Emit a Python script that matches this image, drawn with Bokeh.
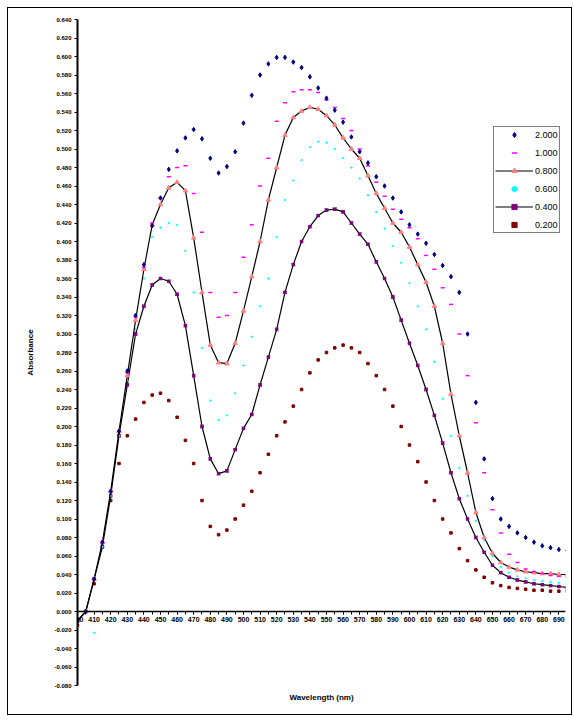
from bokeh.plotting import figure
from bokeh.models import (Range1d, SingleIntervalTicker, FixedTicker, NumeralTickFormatter,
                          Legend, LegendItem, Title)
from bokeh.embed import file_html
from bokeh.resources import INLINE

# wavelength (nm), one reading every 5 nm
wavelength = list(range(400, 700, 5))

abs_2000 = [-0.01, 0.0, 0.035, 0.075, 0.13, 0.195, 0.26, 0.32, 0.375, 0.417,
            0.447, 0.478, 0.498, 0.512, 0.521, 0.511, 0.49, 0.474, 0.481, 0.497,
            0.528, 0.558, 0.58, 0.592, 0.599, 0.599, 0.594, 0.588, 0.578, 0.566,
            0.555, 0.542, 0.529, 0.513, 0.497, 0.485, 0.47, 0.46, 0.447, 0.432,
            0.418, 0.408, 0.398, 0.386, 0.374, 0.362, 0.345, 0.3, 0.226, 0.165,
            0.122, 0.1, 0.092, 0.085, 0.08, 0.075, 0.071, 0.069, 0.067, 0.066]

abs_1000 = [-0.01, 0.0, 0.035, 0.075, 0.13, 0.195, 0.258, 0.318, 0.372, 0.42,
            0.447, 0.47, 0.48, 0.482, 0.452, 0.41, 0.345, 0.318, 0.32, 0.345,
            0.383, 0.418, 0.46, 0.49, 0.53, 0.55, 0.562, 0.564, 0.564, 0.561,
            0.553, 0.545, 0.533, 0.52, 0.5, 0.482, 0.464, 0.449, 0.435, 0.424,
            0.415, 0.403, 0.385, 0.37, 0.35, 0.332, 0.3, 0.255, 0.204, 0.15,
            0.11, 0.085, 0.062, 0.053, 0.046, 0.043, 0.041, 0.039, 0.038, 0.037]

abs_0800 = [-0.01, 0.0, 0.035, 0.075, 0.13, 0.195, 0.255, 0.315, 0.37, 0.418,
            0.44, 0.458, 0.464, 0.455, 0.404, 0.345, 0.288, 0.269, 0.268, 0.29,
            0.325, 0.362, 0.4, 0.445, 0.48, 0.515, 0.534, 0.541, 0.545, 0.543,
            0.536, 0.526, 0.512, 0.5, 0.49, 0.471, 0.452, 0.436, 0.42, 0.41,
            0.394, 0.375, 0.356, 0.33, 0.29, 0.235, 0.19, 0.15, 0.107, 0.08,
            0.063, 0.053, 0.048, 0.045, 0.043, 0.042, 0.041, 0.041, 0.04, 0.04]

abs_0600 = [-0.01, 0.0, -0.023, 0.07, 0.125, 0.19, 0.25, 0.305, 0.36, 0.405,
            0.415, 0.42, 0.418, 0.39, 0.345, 0.285, 0.228, 0.207, 0.212, 0.236,
            0.266, 0.297, 0.33, 0.36, 0.405, 0.445, 0.466, 0.488, 0.502, 0.508,
            0.507, 0.5, 0.49, 0.48, 0.468, 0.45, 0.432, 0.414, 0.395, 0.377,
            0.355, 0.33, 0.305, 0.27, 0.23, 0.19, 0.155, 0.125, 0.098, 0.077,
            0.06, 0.048, 0.042, 0.038, 0.036, 0.034, 0.033, 0.032, 0.031, 0.031]

abs_0400 = [-0.01, 0.0, 0.035, 0.07, 0.125, 0.19, 0.245, 0.3, 0.33, 0.353,
            0.36, 0.357, 0.343, 0.309, 0.255, 0.2, 0.165, 0.149, 0.152, 0.175,
            0.198, 0.213, 0.245, 0.275, 0.305, 0.345, 0.375, 0.4, 0.416, 0.428,
            0.434, 0.435, 0.432, 0.42, 0.408, 0.397, 0.378, 0.36, 0.34, 0.315,
            0.29, 0.266, 0.24, 0.212, 0.182, 0.15, 0.122, 0.1, 0.08, 0.064,
            0.05, 0.042, 0.037, 0.034, 0.032, 0.03, 0.029, 0.028, 0.027, 0.026]

abs_0200 = [-0.015, 0.0, 0.03, 0.07, 0.12, 0.16, 0.19, 0.208, 0.226, 0.234,
            0.236, 0.228, 0.21, 0.185, 0.16, 0.12, 0.092, 0.083, 0.088, 0.1,
            0.115, 0.13, 0.15, 0.17, 0.19, 0.205, 0.222, 0.24, 0.258, 0.272,
            0.28, 0.285, 0.288, 0.285, 0.28, 0.268, 0.255, 0.24, 0.222, 0.2,
            0.18, 0.162, 0.14, 0.12, 0.1, 0.085, 0.068, 0.055, 0.045, 0.037,
            0.031, 0.028, 0.026, 0.025, 0.024, 0.023, 0.023, 0.022, 0.022, 0.022]

series_labels = ["2.000", "1.000", "0.800", "0.600", "0.400", "0.200"]
x_label_ticks = list(range(400, 700, 10))

FONT = "Liberation Sans"

p = figure(frame_width=488, frame_height=666,
           x_range=Range1d(400, 694), y_range=Range1d(-0.08, 0.64),
           output_backend="svg", toolbar_location=None,
           min_border_left=69, min_border_top=11, min_border_right=6, min_border_bottom=29,
           background_fill_color="white", border_fill_color="white")
p.margin = (7, 0, 0, 7)
p.styles = {"border": "1px solid black"}
p.outline_line_color = None
p.xgrid.visible = False
p.ygrid.visible = False

# x axis crossing at zero
p.xaxis.fixed_location = 0
p.xaxis.ticker = FixedTicker(ticks=x_label_ticks, minor_ticks=wavelength)
p.xaxis.axis_line_width = 1.5
p.xaxis.axis_line_color = "black"
p.xaxis.major_tick_line_color = "black"
p.xaxis.minor_tick_line_color = "black"
p.xaxis.major_tick_in = 0
p.xaxis.major_tick_out = 3
p.xaxis.minor_tick_in = 0
p.xaxis.minor_tick_out = 3
p.xaxis.major_label_text_font = FONT
p.xaxis.major_label_text_font_size = "7px"
p.xaxis.major_label_text_font_style = "bold"
p.xaxis.major_label_text_color = "black"
p.xaxis.major_label_standoff = 2

p.add_layout(Title(text="Wavelength (nm)", align="center", text_font=FONT,
                   text_font_size="8px", text_font_style="bold", text_color="black"), "below")

p.yaxis.ticker = SingleIntervalTicker(interval=0.02, num_minor_ticks=0)
p.yaxis.formatter = NumeralTickFormatter(format="0.000")
p.yaxis.axis_line_width = 2
p.yaxis.axis_line_color = "black"
p.yaxis.major_tick_line_color = "black"
p.yaxis.major_tick_in = 0
p.yaxis.major_tick_out = 3
p.yaxis.minor_tick_line_color = None
p.yaxis.major_label_text_font = FONT
p.yaxis.major_label_text_font_size = "6px"
p.yaxis.major_label_text_font_style = "bold"
p.yaxis.major_label_text_color = "black"
p.yaxis.major_label_standoff = 3
p.yaxis.axis_label = "Absorbance"
p.yaxis.axis_label_text_font = FONT
p.yaxis.axis_label_text_font_size = "8px"
p.yaxis.axis_label_text_font_style = "bold"
p.yaxis.axis_label_text_color = "black"
p.yaxis.axis_label_standoff = 16

# series
r200 = p.scatter(wavelength, abs_0200, marker="square", size=2.5, color="#800000")

l400 = p.line(wavelength, abs_0400, line_color="black", line_width=1.2)
x400 = p.scatter(wavelength, abs_0400, marker="x", size=4.5, line_color="black", line_width=1)
s400 = p.scatter(wavelength, abs_0400, marker="square", size=2.5, color="#800080")

r600 = p.scatter(wavelength, abs_0600, marker="circle", size=1.5, color="#00FFFF")

l800 = p.line(wavelength, abs_0800, line_color="black", line_width=1.2)
t800 = p.scatter(wavelength, abs_0800, marker="triangle", size=4.5,
                 fill_color="#FF8080", line_color="#FF8080")

r1000 = p.scatter(wavelength, abs_1000, marker="dash", size=4, line_color="#FF00FF",
                  line_width=1.5)

r2000 = p.scatter(wavelength, abs_2000, marker="diamond", size=4.5, color="#000080")

legend = Legend(items=[
    LegendItem(label=series_labels[0], renderers=[r2000]),
    LegendItem(label=series_labels[1], renderers=[r1000]),
    LegendItem(label=series_labels[2], renderers=[l800, t800]),
    LegendItem(label=series_labels[3], renderers=[r600]),
    LegendItem(label=series_labels[4], renderers=[l400, s400]),
    LegendItem(label=series_labels[5], renderers=[r200]),
], location=(416, 452))
legend.border_line_color = "black"
legend.border_line_width = 1
legend.background_fill_color = "white"
legend.background_fill_alpha = 1
legend.label_text_font = FONT
legend.label_text_font_size = "9px"
legend.label_text_color = "black"
legend.glyph_width = 38
legend.glyph_height = 13
legend.label_height = 13
legend.label_standoff = 2
legend.spacing = 5
legend.padding = 1
legend.margin = 0
p.add_layout(legend, "center")

open("out.html", "w").write(file_html(p, INLINE))
